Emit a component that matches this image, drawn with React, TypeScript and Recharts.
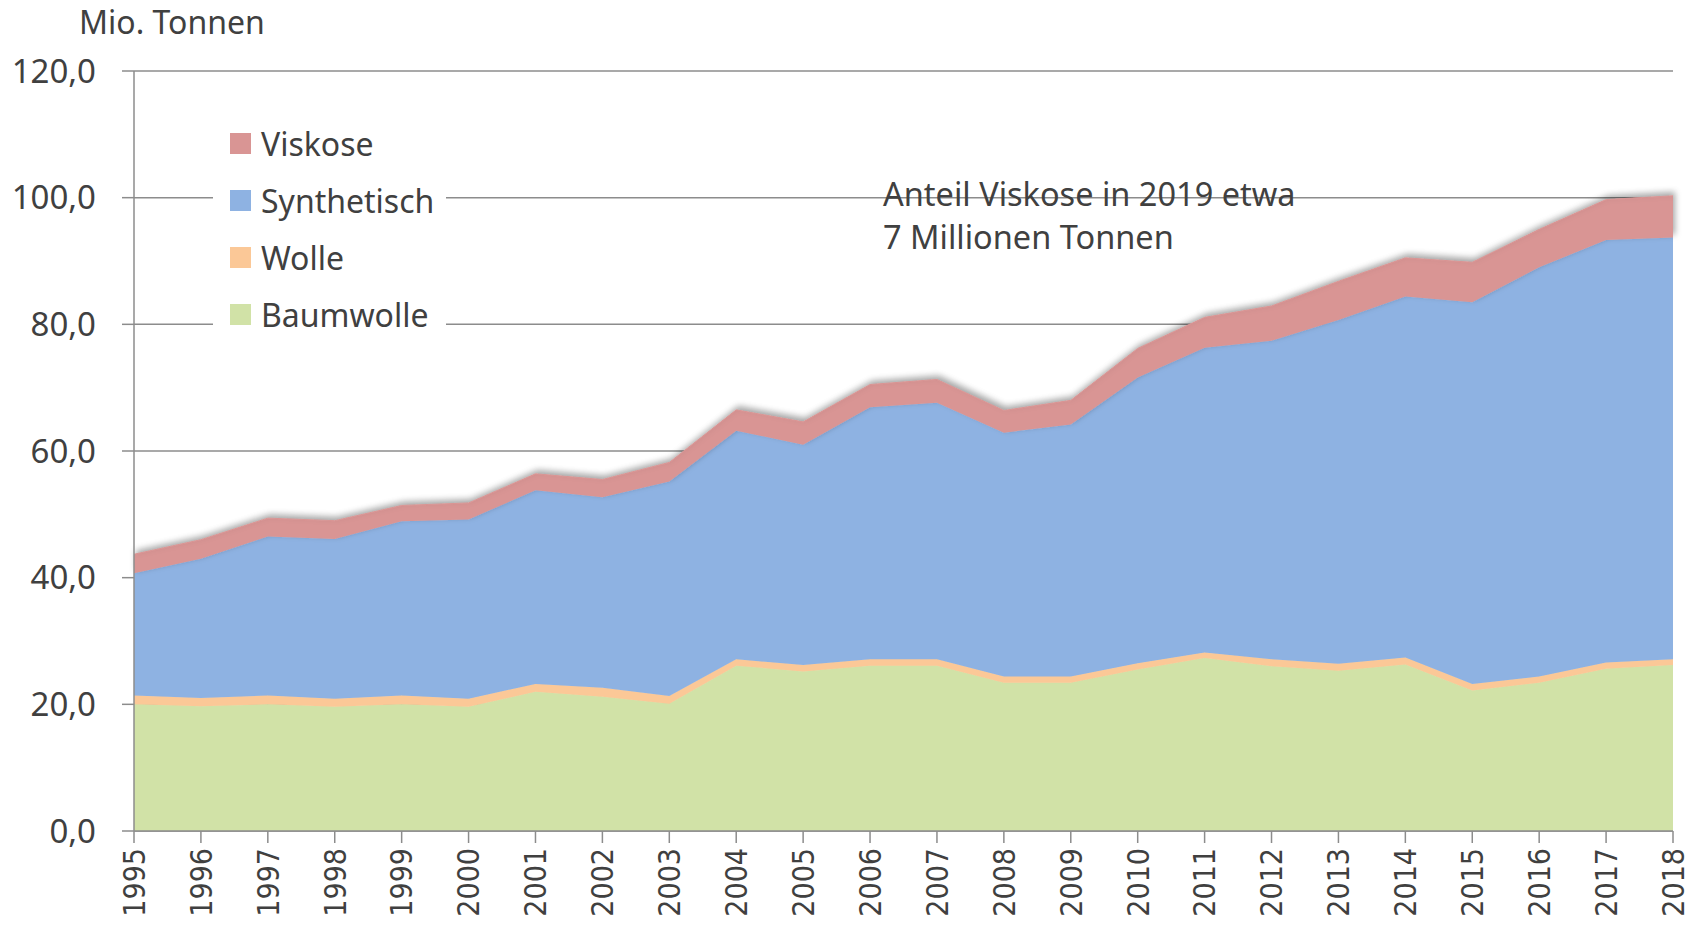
import React from 'react';
import { AreaChart, Area, XAxis, YAxis, CartesianGrid } from 'recharts';

const years = [
  '1995', '1996', '1997', '1998', '1999', '2000', '2001', '2002', '2003', '2004', '2005', '2006',
  '2007', '2008', '2009', '2010', '2011', '2012', '2013', '2014', '2015', '2016', '2017', '2018'
];

// Mio. Tonnen
const baumwolle = [20.0, 19.7, 20.0, 19.6, 20.0, 19.6, 22.0, 21.2, 20.1, 26.1, 25.2, 26.1, 26.1, 23.4, 23.4, 25.5, 27.3, 26.0, 25.3, 26.3, 22.2, 23.4, 25.6, 26.2];
const wolle = [1.4, 1.3, 1.4, 1.3, 1.4, 1.3, 1.2, 1.4, 1.2, 1.0, 1.0, 1.0, 1.0, 1.0, 1.0, 1.0, 0.9, 1.1, 1.1, 1.1, 1.0, 1.0, 1.0, 0.9];
const synthetisch = [19.3, 22.0, 25.1, 25.2, 27.5, 28.3, 30.6, 30.1, 33.9, 36.1, 34.8, 39.8, 40.5, 38.5, 39.8, 45.1, 48.1, 50.3, 54.3, 57.0, 60.3, 64.6, 66.7, 66.6];
const viskose = [3.0, 3.0, 2.9, 2.9, 2.5, 2.6, 2.6, 2.8, 3.0, 3.3, 3.6, 3.6, 3.7, 3.5, 3.8, 4.6, 4.8, 5.5, 6.1, 6.1, 6.3, 6.0, 6.4, 6.6];

const yTicks = [0, 20, 40, 60, 80, 100, 120];

const series = [
  { key: 'Baumwolle', color: '#D1E2A7' },
  { key: 'Wolle', color: '#FBC897' },
  { key: 'Synthetisch', color: '#8EB2E2' },
  { key: 'Viskose', color: '#D99594' }
];

const data = years.map((year, i) => ({
  year,
  Baumwolle: baumwolle[i],
  Wolle: wolle[i],
  Synthetisch: synthetisch[i],
  Viskose: viskose[i]
}));

const textColor = '#404040';
const axisColor = '#8c8c8c';
const font = '"Noto Sans", sans-serif';

const YearTick = (props: any) => {
  const { x, y, payload } = props;
  return (
    <g transform={`translate(${x},${y})`}>
      <text
        transform='rotate(-90) scale(0.9,1)'
        textAnchor='end'
        dy='0.36em'
        fill={textColor}
        fontSize={30}
        fontFamily='"DejaVu Sans", sans-serif'
      >
        {payload.value}
      </text>
    </g>
  );
};

export default function App() {
  return (
    <div style={{ position: 'absolute', left: 0, top: 0, width: 1693, height: 933, background: '#fff', fontFamily: font, color: textColor }}>
      <AreaChart
        width={1693}
        height={933}
        data={data}
        margin={{ top: 71, right: 20, bottom: 0, left: 0 }}
      >
        <defs>
          <filter id='vshadow' x='-5%' y='-20%' width='110%' height='140%'>
            <feDropShadow dx='2' dy='-3' stdDeviation='3' floodColor='#000' floodOpacity='0.35' />
          </filter>
        </defs>
        <CartesianGrid vertical={false} stroke={axisColor} strokeWidth={1.5} />
        <XAxis
          dataKey='year'
          height={102}
          interval={0}
          tick={<YearTick />}
          tickSize={12}
          tickMargin={5}
          stroke={axisColor}
          strokeWidth={1.5}
        />
        <YAxis
          width={134}
          domain={[0, 120]}
          ticks={yTicks}
          tickSize={12}
          tickMargin={26}
          stroke={axisColor}
          strokeWidth={1.5}
          tick={{ fill: textColor, fontSize: 33, fontFamily: font }}
          tickFormatter={(v: number) => v.toFixed(1).replace('.', ',')}
        />
        {series.map((s) => (
          <Area
            key={s.key}
            type='linear'
            dataKey={s.key}
            stackId='1'
            stroke={s.color}
            strokeWidth={1}
            fill={s.color}
            fillOpacity={1}
            isAnimationActive={false}
            filter={s.key === 'Viskose' ? 'url(#vshadow)' : undefined}
          />
        ))}
      </AreaChart>

      <div style={{ position: 'absolute', left: 79, top: 0, fontSize: 32, lineHeight: '44px' }}>
        Mio. Tonnen
      </div>

      <div style={{ position: 'absolute', left: 213, top: 110, width: 233, height: 228, background: '#fff' }} />
      {[...series].reverse().map((s, i) => (
        <div
          key={s.key}
          style={{ position: 'absolute', left: 230, top: 143 + i * 57 - 20, height: 40, display: 'flex', alignItems: 'center', fontSize: 32 }}
        >
          <span style={{ display: 'inline-block', width: 21, height: 21, background: s.color, marginRight: 10 }} />
          <span>{s.key}</span>
        </div>
      ))}

      <div style={{ position: 'absolute', left: 883, top: 172, fontSize: 32.5, lineHeight: '43px' }}>
        Anteil Viskose in 2019 etwa<br />7 Millionen Tonnen
      </div>
    </div>
  );
}
